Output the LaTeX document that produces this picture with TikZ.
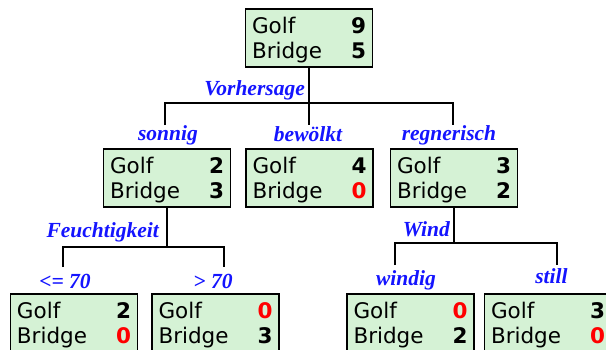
\documentclass[tikz,border=0pt]{standalone}
\usepackage{fontspec}
\setmainfont{DejaVu Sans}
\newfontfamily\labelfont{Liberation Serif}
\usetikzlibrary{positioning}
\definecolor{leafgreen}{HTML}{D5F2D5}
\definecolor{edgeblue}{HTML}{1414FF}
\definecolor{zerored}{HTML}{FF0000}
\newcommand{\zero}{\textcolor{zerored}{0}}
\newcommand{\counts}[2]{\begin{tabular*}{114bp}[t]{@{}l@{\extracolsep{\fill}}r@{}}Golf & \textbf{#1}\\ Bridge & \textbf{#2}\end{tabular*}}

\begin{document}
\begin{tikzpicture}[x=1bp, y=-1bp,
  box/.style={rectangle, draw, line width=1.5bp, fill=leafgreen, inner xsep=6.5bp, inner ysep=0pt,
    text height=24bp, text depth=34bp, font=\fontsize{21.5bp}{25bp}\selectfont},
  attr/.style={inner sep=0pt, text=edgeblue, font=\labelfont\bfseries\itshape\fontsize{21.5bp}{25bp}\selectfont},
  edge/.style={line width=1.6bp}]
\path[use as bounding box, fill=white] (0,0) rectangle (606,349);

% Knoten
\node[box] (root) at (309,38) {\counts{9}{5}};
\node[box] (sonnig) at (167,178) {\counts{2}{3}};
\node[box, right=14bp of sonnig] (bewoelkt) {\counts{4}{\zero}};
\node[box, right=16bp of bewoelkt] (regnerisch) {\counts{3}{2}};
\node[box] (feuchtLow) at (74,323) {\counts{2}{\zero}};
\node[box, right=13bp of feuchtLow] (feuchtHigh) {\counts{\zero}{3}};
\node[box] (windig) at (410.5,323) {\counts{\zero}{2}};
\node[box, right=9bp of windig] (still) {\counts{3}{\zero}};

% Beschriftungen
\node[attr, anchor=base east] (lVorhersage) at (305,95) {Vorhersage};
\node[attr, anchor=base] (lSonnig) at (168,140) {sonnig};
\node[attr, anchor=base] (lBewoelkt) at (308,141) {bewölkt};
\node[attr, anchor=base] (lRegnerisch) at (449,140) {regnerisch};
\node[attr, anchor=base east] (lFeucht) at (159,237) {Feuchtigkeit};
\node[attr, anchor=base] (lLow) at (65,288) {<= 70};
\node[attr, anchor=base] (lHigh) at (213,288) {> 70};
\node[attr, anchor=base east] (lWind) at (450,236) {Wind};
\node[attr, anchor=base] (lWindig) at (406,285) {windig};
\node[attr, anchor=base] (lStill) at (551.5,283) {still};

% Verbindungen
\coordinate (sonnigTop) at (165,125);
\coordinate (regnTop) at (453,125);
\coordinate (vorBar) at (root.south |- 0,103);
\draw[edge] (root.south) -- (root.south |- sonnigTop);
\draw[edge] (sonnigTop) |- (vorBar) -| (regnTop);

\coordinate (lowTop) at (63,267);
\coordinate (highTop) at (224,267);
\coordinate (feuchtBar) at (sonnig.south |- 0,247);
\draw[edge] (sonnig.south) -- (feuchtBar);
\draw[edge] (lowTop) |- (feuchtBar) -| (highTop);

\coordinate (windigTop) at (395,265);
\coordinate (stillTop) at (557,265);
\coordinate (windBar) at (regnerisch.south |- 0,243);
\draw[edge] (regnerisch.south) -- (windBar);
\draw[edge] (windigTop) |- (windBar) -| (stillTop);
\end{tikzpicture}
\end{document}
